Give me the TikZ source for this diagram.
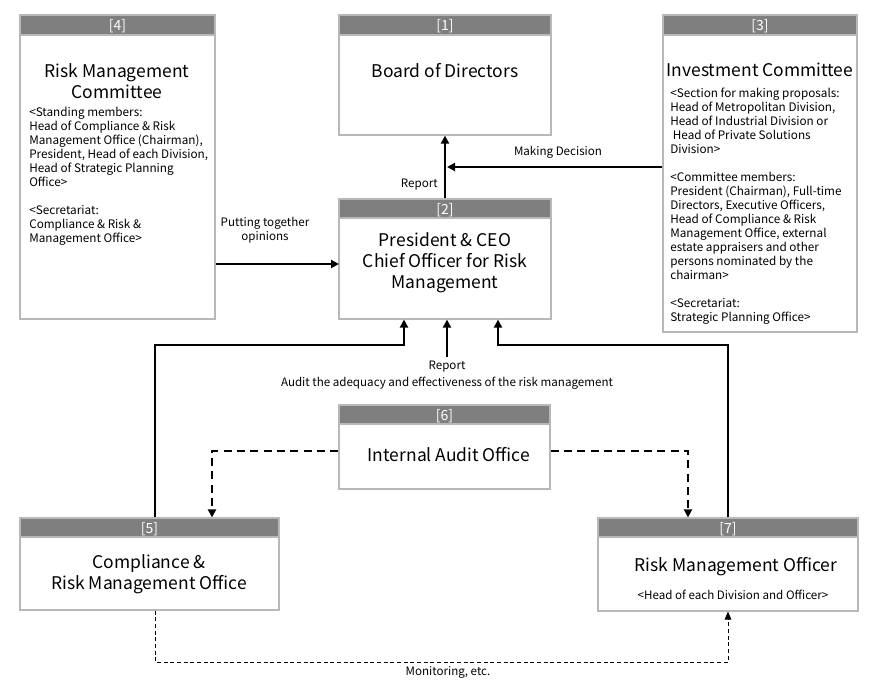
\documentclass[tikz,border=0pt]{standalone}
\usepackage{fontspec}
\setmainfont{Noto Sans CJK KR}
\usetikzlibrary{fit,arrows.meta,calc}
\definecolor{hdrgray}{HTML}{7F7F7F}
\definecolor{boxline}{HTML}{B8B8B8}
\tikzset{
  box/.style={draw=boxline, line width=0.9pt, fill=white, inner sep=0pt},
  hdr/.style={fill=hdrgray, draw=boxline, line width=0.9pt, inner sep=0pt},
  hdrtxt/.style={text=white, inner sep=0pt, font=\fontsize{10.5}{12}\selectfont},
  ttl/.style={align=center, inner sep=0pt, font=\fontsize{13.1}{15.8}\selectfont},
  body/.style={align=left, inner sep=0pt, font=\fontsize{8.8}{10.5}\selectfont, anchor=north west},
  lbl/.style={align=center, inner sep=0pt, font=\fontsize{8.7}{10.5}\selectfont},
  arr/.style={line width=1.5pt, -{Triangle[length=6pt,width=6pt]}},
  dsh/.style={line width=1.5pt, dash pattern=on 6pt off 4pt, -{Triangle[length=6pt,width=6pt]}},
  tdsh/.style={line width=0.6pt, dash pattern=on 3pt off 2pt, -{Triangle[length=6pt,width=5pt]}},
}
\begin{document}
\begin{tikzpicture}[x=0.75pt,y=-0.75pt]
\fill[white] (0,0) rectangle (879,697);
\useasboundingbox (0,0) rectangle (879,697);

% [4]
\node[box, fit={(20,15) (215,319)}] (b4) {};
\node[hdr, fit={(20,15) (215,35)}] (h4) {};
\node[hdrtxt] (n4) at ([yshift=-1pt]h4.center) {[4]};
\node[ttl] (t4) at (117,81) {Risk Management\\Committee};
\node[body] (d4) at (29,107) {<Standing members:\\Head of Compliance \& Risk\\Management Office (Chairman),\\President, Head of each Division,\\Head of Strategic Planning\\Office>\\[10.5pt]<Secretariat:\\Compliance \& Risk \&\\Management Office>};

% [1]
\node[box, fit={(339,15) (551,135)}] (b1) {};
\node[hdr, fit={(339,15) (551,35)}] (h1) {};
\node[hdrtxt] (n1) at ([yshift=-1pt]h1.center) {[1]};
\node[ttl] (t1) at (445,71) {Board of Directors};

% [3]
\node[box, fit={(663,15) (857,332)}] (b3) {};
\node[hdr, fit={(663,15) (857,35)}] (h3) {};
\node[hdrtxt] (n3) at ([yshift=-1pt]h3.center) {[3]};
\node[ttl] (t3) at (760,70) {Investment Committee};
\node[body] (d3) at (670,88) {<Section for making proposals:\\Head of Metropolitan Division,\\Head of Industrial Division or\\\ Head of Private Solutions\\Division>\\[10.5pt]<Committee members:\\President (Chairman), Full-time\\Directors, Executive Officers,\\Head of Compliance \& Risk\\Management Office, external\\estate appraisers and other\\persons nominated by the\\chairman>\\[10.5pt]<Secretariat:\\Strategic Planning Office>};

% [2]
\node[box, fit={(339,199) (551,319)}] (b2) {};
\node[hdr, fit={(339,199) (551,218)}] (h2) {};
\node[hdrtxt] (n2) at ([yshift=-1pt]h2.center) {[2]};
\node[ttl] (t2) at (445,263) {President \& CEO\\Chief Officer for Risk\\Management};

% [6]
\node[box, fit={(339,405) (550,489)}] (b6) {};
\node[hdr, fit={(339,405) (550,424)}] (h6) {};
\node[hdrtxt] (n6) at ([yshift=-1pt]h6.center) {[6]};
\node[ttl] (t6) at (449,455) {Internal Audit Office};

% [5]
\node[box, fit={(20,518) (279,610)}] (b5) {};
\node[hdr, fit={(20,518) (279,537)}] (h5) {};
\node[hdrtxt] (n5) at ([yshift=-1pt]h5.center) {[5]};
\node[ttl] (t5) at (149,574) {Compliance \&\\Risk Management Office};

% [7]
\node[box, fit={(598,518) (858,611)}] (b7) {};
\node[hdr, fit={(598,518) (858,537)}] (h7) {};
\node[hdrtxt] (n7) at ([yshift=-1pt]h7.center) {[7]};
\node[ttl] (t7) at (736,567) {Risk Management Officer};
\node[lbl] (s7) at (733,595) {<Head of each Division and Officer>};

% labels
\node[lbl, anchor=east] (rep1) at (438,185) {Report};
\node[lbl] (mdl) at (558,152) {Making Decision};
\node[lbl] (pto) at (265,230) {Putting together\\opinions};
\node[lbl, font=\fontsize{8.7}{12.5}\selectfont] (aud) at (447,375) {Report\\Audit the adequacy and effectiveness of the risk management};
\node[lbl] (mon) at (448,672) {Monitoring, etc.};

% coordinates
\coordinate (md) at (447,167);
\coordinate (pt) at (339,264);
\coordinate (k1) at (155,345);
\coordinate (k2) at (404,345);
\coordinate (k3) at (728,345);
\coordinate (k4) at (498,345);
\coordinate (d1) at (212,451);
\coordinate (d2) at (688,451);
\coordinate (m1) at (155,662);
\coordinate (m2) at (728,662);

% connectors
\draw[arr] (b2.north) -- (b1.south);
\draw[arr] (b3.west |- md) -- (md);
\draw[arr] (b4.east |- pt) -- (pt);
\draw[arr] ([yshift=3pt]aud.north) -- (b2.south -| aud.north);
\draw[arr] (b5.north -| k1) -- (k1) -- (k2) -- (b2.south -| k2);
\draw[arr] (b7.north -| k3) -- (k3) -- (k4) -- (b2.south -| k4);
\draw[dsh] (b6.west |- d1) -- (d1) -- (b5.north -| d1);
\draw[dsh] (b6.east |- d2) -- (d2) -- (b7.north -| d2);
\draw[tdsh] (b5.south -| m1) -- (m1) -- (m2) -- (b7.south -| m2);
\end{tikzpicture}
\end{document}
